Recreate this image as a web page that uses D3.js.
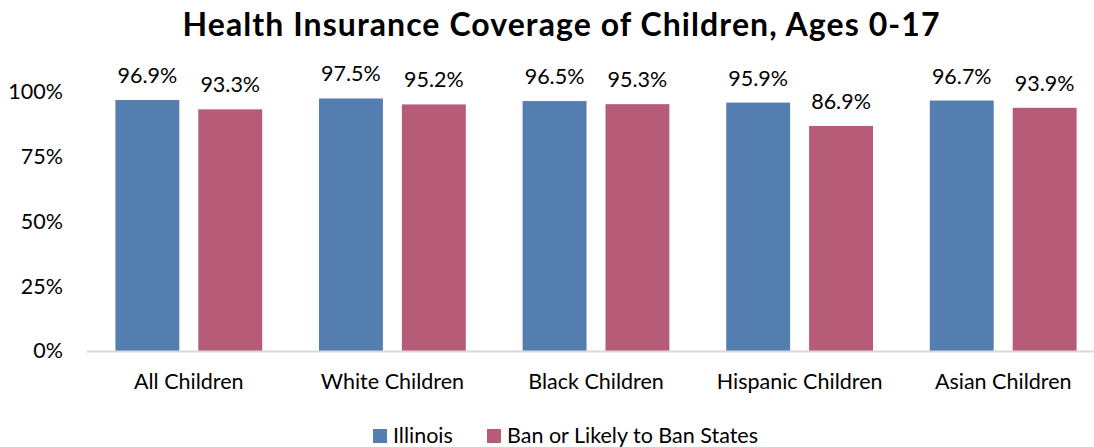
<!DOCTYPE html>
<html><head><meta charset="utf-8">
<script src="https://cdn.jsdelivr.net/npm/d3@7"></script>
<style>
body{margin:0;background:#fff;}
text{font-family:Lato,"Open Sans",sans-serif;fill:#000;}
</style></head>
<body><svg id="c" width="1094" height="447"></svg>
<script>
const categories = ["All Children","White Children","Black Children","Hispanic Children","Asian Children"];
const seriesNames = ["Illinois","Ban or Likely to Ban States"];
const illinois = [96.9, 97.5, 96.5, 95.9, 96.7];
const banStates = [93.3, 95.2, 95.3, 86.9, 93.9];
const yTicks = [0, 25, 50, 75, 100];
const colors = ["#557EB0", "#B75C78"];

(function(){
const svg = d3.select("#c");
const mLeft = 87, mRight = 1105, mTop = 92, mBottom = 351;
const fs = "21.5px";

const x0 = d3.scaleBand().domain(categories).range([mLeft, mRight]).paddingInner(0).paddingOuter(0);
const x1 = d3.scaleBand().domain(seriesNames).range([28.4, x0.bandwidth() - 28.4]).paddingInner(19/83);
const y = d3.scaleLinear().domain([0, 100]).range([mBottom, mTop]);

svg.append("text").attr("x", 561).attr("y", 36).attr("text-anchor", "middle")
  .attr("textLength", 757).attr("lengthAdjust", "spacing")
  .style("font-size", "32px").style("font-weight", "bold").text("Health Insurance Coverage of Children, Ages 0-17");

const yAxis = svg.append("g").attr("transform", `translate(${mLeft},0)`)
  .call(d3.axisLeft(y).tickValues(yTicks).tickFormat(d => d + "%").tickSize(0).tickPadding(24));
yAxis.select(".domain").remove();
yAxis.selectAll("text").style("font-size", fs).style("font-family", "Lato, 'Open Sans', sans-serif").attr("fill", "#000");

const data = categories.map((c, i) => ({cat: c, vals: [illinois[i], banStates[i]]}));

const groups = svg.selectAll("g.grp").data(data).join("g").attr("class", "grp")
  .attr("transform", d => `translate(${x0(d.cat)},0)`);
groups.selectAll("rect").data(d => d.vals.map((v, j) => ({s: seriesNames[j], v, j}))).join("rect")
  .attr("x", d => x1(d.s)).attr("width", x1.bandwidth())
  .attr("y", d => y(d.v)).attr("height", d => y(0) - y(d.v))
  .attr("fill", d => colors[d.j]);
groups.selectAll("text.val").data(d => d.vals.map((v, j) => ({s: seriesNames[j], v, j}))).join("text")
  .attr("class", "val").attr("x", d => x1(d.s) + x1.bandwidth() / 2).attr("y", d => y(d.v) - 17)
  .attr("text-anchor", "middle").style("font-size", fs).text(d => d.v.toFixed(1) + "%");

svg.append("line").attr("x1", mLeft).attr("x2", 1094).attr("y1", mBottom + 0.5).attr("y2", mBottom + 0.5)
  .attr("stroke", "#d9d9d9").attr("stroke-width", 2);

const xAxis = svg.append("g").attr("transform", `translate(0,${mBottom})`)
  .call(d3.axisBottom(x0).tickSize(0).tickPadding(23));
xAxis.select(".domain").remove();
xAxis.selectAll("text").style("font-size", fs).style("font-family", "Lato, 'Open Sans', sans-serif").attr("fill", "#000");

const legendX = [373, 487];
seriesNames.forEach((s, i) => {
  svg.append("rect").attr("x", legendX[i]).attr("y", 429).attr("width", 14).attr("height", 14).attr("fill", colors[i]);
  svg.append("text").attr("x", legendX[i] + 20).attr("y", 443).style("font-size", fs).text(s);
});
})();
</script></body></html>
